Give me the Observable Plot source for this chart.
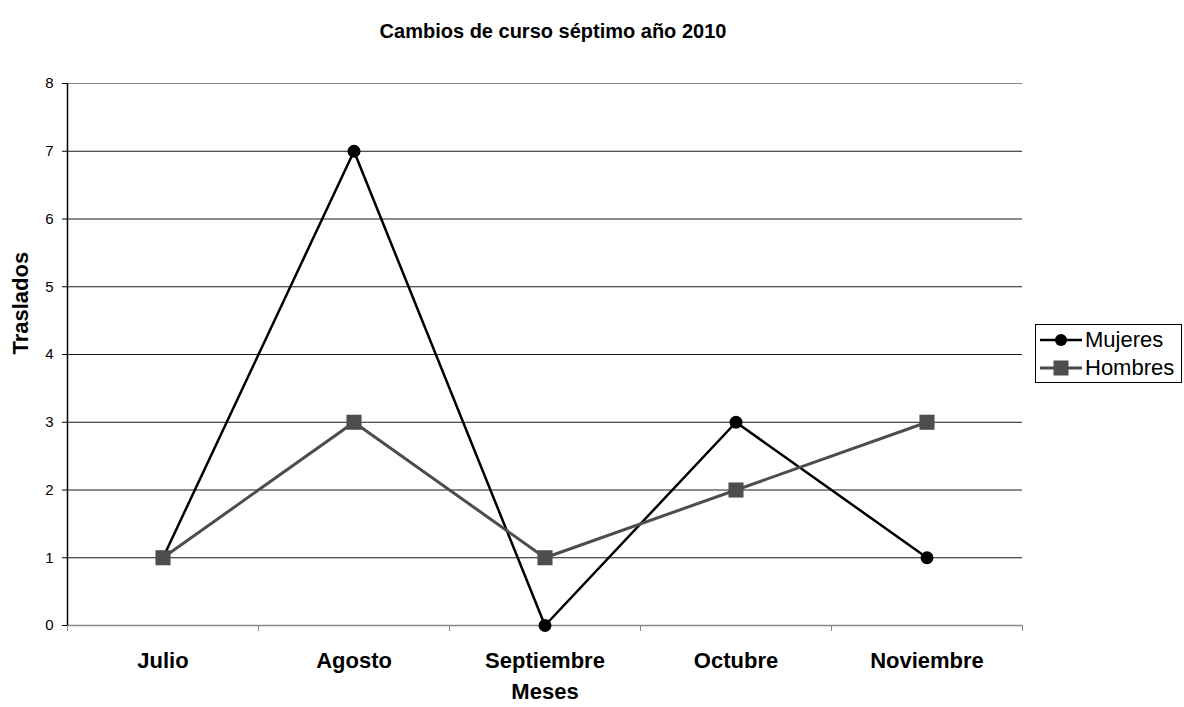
<!DOCTYPE html>
<html>
<head>
<meta charset="utf-8">
<script src="https://cdn.jsdelivr.net/npm/d3@7"></script>
<script src="https://cdn.jsdelivr.net/npm/@observablehq/plot@0.6"></script>
<style>
  html, body { margin: 0; padding: 0; background: #fff; }
  #wrap { position: relative; width: 1184px; height: 707px; font-family: "Liberation Sans", Arial, sans-serif; }
  #legend { position: absolute; left: 1035px; top: 324px; width: 145px; height: 57px; border: 1px solid #000; background: #fff; font-size: 22px; }
  .row { position: absolute; left: 3px; height: 24px; display: flex; align-items: center; }
  .row svg { margin-right: 2px; }
</style>
</head>
<body>
<div id="wrap"></div>
<script>
const title = "Cambios de curso séptimo año 2010";
const xTitle = "Meses";
const yTitle = "Traslados";
const months = ["Julio", "Agosto", "Septiembre", "Octubre", "Noviembre"];
const mujeres = [1, 7, 0, 3, 1];
const hombres = [1, 3, 1, 2, 3];
const yTicks = [0, 1, 2, 3, 4, 5, 6, 7, 8];
const seriesNames = ["Mujeres", "Hombres"];
const seriesColors = ["#000000", "#4d4d4d"];

const idx = months.map((_, i) => i);
const bounds = d3.range(months.length + 1).map(i => i - 0.5);
const dataM = idx.map(i => ({i, v: mujeres[i]}));
const dataH = idx.map(i => ({i, v: hombres[i]}));

const font = "'Liberation Sans', Arial, sans-serif";

const chart = Plot.plot({
  width: 1184,
  height: 707,
  marginLeft: 67,
  marginRight: 162,
  marginTop: 83,
  marginBottom: 82,
  style: {fontFamily: font, background: "#fff", overflow: "visible"},
  x: {type: "linear", domain: [-0.5, months.length - 0.5]},
  y: {domain: [0, 8]},
  marks: [
    Plot.ruleY(yTicks.filter(d => d > 0 && d < 8), {stroke: "#1a1a1a", strokeWidth: 1}),
    Plot.ruleY([8], {stroke: "#888", strokeWidth: 1}),
    Plot.ruleY([0], {stroke: "#888", strokeWidth: 1.5}),
    Plot.ruleX([-0.5], {stroke: "#000", strokeWidth: 1.5}),
    Plot.axisY(yTicks, {tickSize: 5, tickPadding: 9, tickFormat: d3.format("d"), fontSize: 15, label: null, stroke: "#000", color: "#000"}),
    Plot.axisX(bounds, {tickSize: 6, tickFormat: () => "", label: null, stroke: "#888"}),
    Plot.axisX(idx, {tickSize: 0, tickPadding: 27, tickFormat: i => months[i], fontSize: 22, fontWeight: "bold", label: null, color: "#000"}),
    Plot.line(dataM, {x: "i", y: "v", stroke: seriesColors[0], strokeWidth: 2.5}),
    Plot.dot(dataM, {x: "i", y: "v", r: 6.5, fill: seriesColors[0], symbol: "circle"}),
    Plot.line(dataH, {x: "i", y: "v", stroke: seriesColors[1], strokeWidth: 3}),
    Plot.dot(dataH, {x: "i", y: "v", r: 8.5, fill: seriesColors[1], symbol: "square"}),
    Plot.text([title], {frameAnchor: "top", dx: 8, dy: -60, fontSize: 20, fontWeight: "bold", fill: "#000"}),
    Plot.text([xTitle], {frameAnchor: "bottom", dy: 73, fontSize: 22, fontWeight: "bold", fill: "#000"}),
    Plot.text([yTitle], {frameAnchor: "left", dx: -47, rotate: -90, fontSize: 22, fontWeight: "bold", fill: "#000"})
  ]
});
document.getElementById("wrap").appendChild(chart);

const legend = document.createElement("div");
legend.id = "legend";
seriesNames.forEach((name, k) => {
  const row = document.createElement("div");
  row.className = "row";
  row.style.top = (k === 0 ? 3 : 31) + "px";
  const sw = k === 0
    ? `<svg width="44" height="16"><line x1="1" y1="8" x2="43" y2="8" stroke="${seriesColors[0]}" stroke-width="2.5"/><circle cx="22" cy="8" r="6" fill="${seriesColors[0]}"/></svg>`
    : `<svg width="44" height="16"><line x1="1" y1="8" x2="43" y2="8" stroke="${seriesColors[1]}" stroke-width="3"/><rect x="14.5" y="0.5" width="15" height="15" fill="${seriesColors[1]}"/></svg>`;
  row.innerHTML = sw + `<span>${name}</span>`;
  legend.appendChild(row);
});
document.getElementById("wrap").appendChild(legend);
</script>
</body>
</html>
